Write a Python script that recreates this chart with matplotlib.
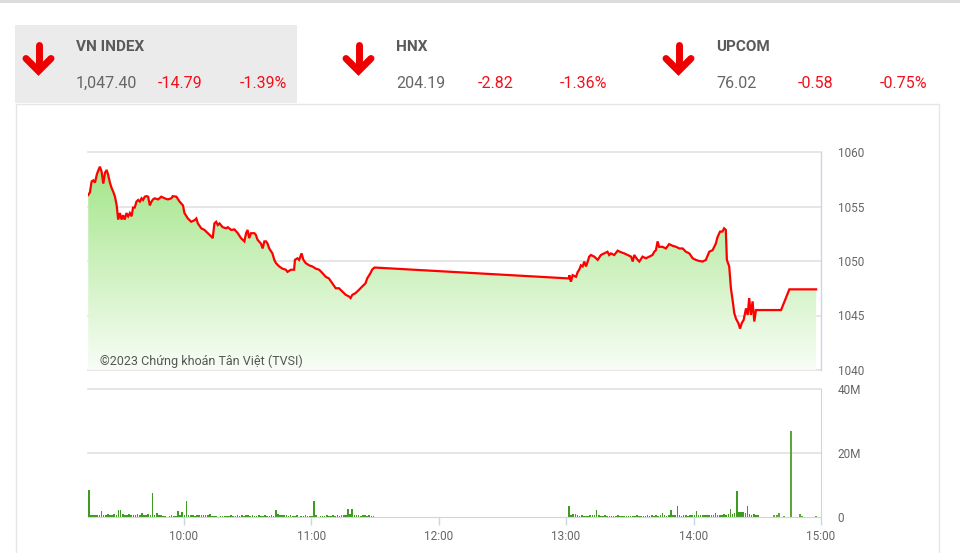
import matplotlib
matplotlib.use('Agg')
import matplotlib.pyplot as plt
import numpy as np
from matplotlib.patches import Rectangle
from matplotlib.lines import Line2D

plt.rcParams['font.family'] = ['Roboto', 'DejaVu Sans']

# ---------------- data ----------------
# header quotes
idx_names = ['VN INDEX', 'HNX', 'UPCOM']
idx_values = ['1,047.40', '204.19', '76.02']
idx_changes = ['-14.79', '-2.82', '-0.58']
idx_pcts = ['-1.39%', '-1.36%', '-0.75%']

# time in minutes since 09:00
morning_t = [15.1, 15.9, 16.7, 17.5, 18.3, 19.1, 19.8, 20.6, 21.4, 22.2, 23.0, 23.8, 24.5, 25.3,
             26.1, 26.9, 27.7, 28.5, 29.2, 30.0, 30.8, 31.5, 32.3, 33.1, 33.9, 34.7, 35.5, 36.2,
             37.0, 37.8, 38.6, 39.4, 40.2, 40.9, 41.7, 42.5, 43.3, 44.1, 44.9, 45.6, 46.4, 48.0,
             49.5, 51.1, 52.6, 54.2, 54.9, 56.6, 58.1, 59.7, 60.4, 62.0, 63.6, 65.2, 66.0, 66.7,
             68.3, 69.8, 71.4, 73.0, 73.7, 74.5, 75.3, 76.1, 76.9, 78.4, 80.0, 80.8, 82.4, 83.9,
             85.5, 87.0, 88.6, 89.4, 90.1, 90.9, 91.7, 93.3, 94.0, 94.8, 96.4, 97.2, 98.0, 98.8,
             99.5, 100.3, 101.8, 102.7, 103.5, 105.0, 106.5, 108.1, 108.9, 110.5, 112.0, 112.4,
             113.6, 114.4, 115.5, 116.4, 117.5, 119.1, 120.6, 122.2, 123.8, 125.3, 126.9, 128.4,
             130.0, 131.6, 133.1, 134.7, 136.3, 137.8, 138.6, 139.4, 140.9, 142.5, 144.0, 145.6,
             146.4, 148.0, 148.7, 149.5, 150.0]
morning_p = [1056.05, 1056.3, 1057.3, 1057.4, 1057.2, 1057.9, 1058.3, 1058.65, 1058.2, 1057.1,
             1058.1, 1058.35, 1057.9, 1057.2, 1056.7, 1056.35, 1055.9, 1055.1, 1053.8, 1054.4,
             1053.8, 1054.2, 1053.8, 1054.4, 1054.1, 1054.4, 1054.1, 1054.9, 1054.9, 1055.45,
             1055.6, 1055.45, 1055.75, 1055.6, 1055.9, 1055.95, 1055.9, 1055.1, 1055.45, 1055.65,
             1055.75, 1055.65, 1055.9, 1055.75, 1055.65, 1055.75, 1055.95, 1055.9, 1055.45, 1055.1,
             1054.4, 1053.9, 1053.6, 1053.75, 1053.9, 1053.45, 1053.0, 1052.85, 1052.55, 1052.25,
             1052.1, 1053.45, 1053.6, 1053.3, 1053.45, 1053.1, 1053.0, 1053.1, 1052.85, 1052.9,
             1052.55, 1052.1, 1051.8, 1052.55, 1052.85, 1052.1, 1052.55, 1052.55, 1052.4, 1051.95,
             1051.6, 1051.15, 1051.8, 1051.8, 1051.6, 1051.15, 1050.7, 1050.1, 1049.8, 1049.5,
             1049.3, 1049.2, 1049.0, 1049.2, 1049.2, 1050.1, 1050.25, 1050.1, 1050.7, 1050.1,
             1049.8, 1049.6, 1049.5, 1049.3, 1049.2, 1048.9, 1048.55, 1048.4, 1047.95, 1047.5,
             1047.5, 1047.2, 1046.9, 1046.75, 1046.6, 1046.9, 1047.05, 1047.35, 1047.65, 1047.95,
             1048.4, 1048.9, 1049.2, 1049.35, 1049.4]

afternoon_t = [241.4, 241.5, 242.3, 243.1, 244.7, 245.5, 246.2, 247.0, 247.8, 248.6, 249.4, 250.2,
               250.9, 251.7, 253.3, 254.9, 256.4, 257.9, 259.5, 260.3, 261.1, 262.7, 264.3, 265.9,
               267.4, 269.0, 270.6, 271.4, 272.1, 273.7, 274.5, 276.0, 277.6, 279.1, 280.7, 281.5,
               282.3, 283.1, 283.8, 285.4, 287.0, 288.5, 290.1, 291.8, 293.3, 294.9, 296.4, 298.0,
               299.6, 301.1, 302.7, 304.3, 305.8, 307.4, 309.0, 310.5, 311.3, 312.5, 313.6, 314.4,
               315.2, 315.7, 316.8, 317.6, 318.4, 319.2, 320.0, 321.1, 321.9, 322.7, 323.6, 324.7,
               325.5, 326.2, 327.0, 327.8, 328.6, 329.4, 330.1]
afternoon_p = [1048.4, 1048.7, 1048.1, 1048.7, 1048.55, 1049.0, 1049.2, 1049.6, 1049.5, 1049.95,
               1049.5, 1049.95, 1050.4, 1050.55, 1050.4, 1050.1, 1050.55, 1050.7, 1050.85, 1050.55,
               1050.7, 1050.55, 1050.95, 1050.8, 1050.7, 1050.55, 1050.4, 1049.95, 1050.55, 1050.1,
               1049.95, 1050.4, 1050.25, 1050.4, 1050.55, 1050.85, 1051.0, 1051.8, 1051.3, 1051.3,
               1051.15, 1051.55, 1051.4, 1051.3, 1051.15, 1051.15, 1050.85, 1050.7, 1050.25, 1050.1,
               1050.0, 1049.95, 1050.1, 1050.85, 1051.0, 1051.6, 1052.2, 1052.7, 1052.7, 1053.0,
               1052.85, 1050.1, 1049.5, 1047.5, 1046.4, 1045.2, 1044.7, 1044.3, 1043.8, 1044.3,
               1044.6, 1045.65, 1045.05, 1046.6, 1045.05, 1046.3, 1044.45, 1045.5, 1045.5]

close_t = [341.2, 345.1, 357.7]
close_p = [1045.5, 1047.4, 1047.4]

# volume (millions of shares), one bar per minute
morning_vol_start = 15
morning_vol = [8.3, 0.5, 0.6, 0.5, 0.7, 0.6, 1.9, 0.6, 0.5, 1.0,
               0.6, 0.5, 1.0, 0.7, 2.1, 2.3, 0.8, 0.6, 0.5, 1.0,
               0.6, 0.5, 0.7, 1.0, 0.6, 1.25, 0.6, 0.5, 0.9, 0.6,
               7.5, 0.6, 1.35, 0.5, 0.5, 0.4, 0.3, 0.0, 0.4, 0.5,
               0.3, 0.4, 1.9, 0.6, 1.6, 0.6, 5.0, 0.6, 0.5, 0.5,
               0.4, 0.5, 0.6, 0.7, 0.7, 0.5, 0.6, 1.0, 0.4, 0.3,
               0.4, 0.0, 0.4, 0.3, 0.4, 0.4, 0.3, 0.5, 0.4, 0.3,
               0.5, 0.4, 0.5, 0.4, 0.6, 0.5, 0.4, 0.5, 0.4, 0.4,
               0.5, 0.3, 0.4, 0.5, 0.3, 0.4, 0.5, 0.4, 2.3, 0.9,
               0.7, 0.6, 0.5, 0.6, 0.4, 0.5, 0.3, 0.4, 0.5, 0.0,
               0.4, 0.3, 0.5, 0.4, 0.3, 0.4, 4.9, 0.5, 0.0, 0.4,
               0.3, 0.4, 0.5, 0.4, 0.3, 0.5, 0.4, 0.5, 0.4, 0.5,
               0.6, 0.5, 2.6, 0.8, 2.6, 0.6, 0.5, 0.5, 0.4, 0.5,
               0.5, 0.4, 0.5, 0.4, 0.3]
afternoon_vol_start = 241
afternoon_vol = [3.3, 0.6, 1.0, 1.0, 0.5, 0.4, 0.5, 0.4, 0.3, 0.4,
                 0.5, 0.7, 0.5, 2.3, 0.5, 0.4, 0.3, 0.5, 0.4, 0.3,
                 0.4, 0.3, 0.4, 0.5, 0.3, 0.4, 0.3, 0.4, 0.3, 0.4,
                 0.3, 0.4, 0.5, 0.3, 0.4, 0.3, 0.4, 0.5, 0.4, 0.5,
                 0.4, 0.5, 0.4, 0.6, 1.35, 0.5, 0.4, 0.6, 2.3, 0.5,
                 0.6, 3.3, 0.5, 0.4, 0.5, 0.6, 0.4, 0.5, 0.6, 0.5,
                 1.9, 0.5, 0.6, 0.7, 0.6, 0.5, 0.7, 0.6, 0.7, 1.35,
                 0.6, 0.7, 0.7, 0.8, 0.7, 0.9, 2.6, 1.0, 1.2, 8.0,
                 1.6, 1.7, 1.6, 1.2, 3.3, 0.8, 0.7, 0.8, 0.7, 0.7]
late_vol_t = [337.9, 339.3, 340.4, 342.4, 345.9, 350.3, 351.1, 357.7]
late_vol = [0.5, 0.5, 1.35, 0.4, 27.0, 0.8, 0.3, 0.2]

price_ticks = [1040, 1045, 1050, 1055, 1060]
vol_ticks = [0, 20, 40]
vol_tick_labels = ['0', '20M', '40M']
time_ticks = [60, 120, 180, 240, 300, 360]
time_labels = ['10:00', '11:00', '12:00', '13:00', '14:00', '15:00']

# ---------------- figure ----------------
W, H = 960, 553
fig = plt.figure(figsize=(9.6, 5.53), dpi=100)
fig.patch.set_facecolor('white')

bg = fig.add_axes([0, 0, 1, 1], zorder=0)
bg.set_xlim(0, W)
bg.set_ylim(H, 0)
bg.axis('off')

bg.add_patch(Rectangle((0, 0), W, 2.5, color='#dcdcdc', lw=0))
bg.add_patch(Rectangle((15, 25), 282, 78, color='#ebebeb', lw=0))
bg.add_patch(Rectangle((15.5, 103.5), 923.5, 470, fill=False, ec='#e6e6e6', lw=1))

red = '#f2111a'
for i in range(3):
    ox = 320 * i
    cx = 38.5 + ox
    bg.add_line(Line2D([cx, cx], [45, 69], color='#ee0000', lw=5, solid_capstyle='round'))
    bg.add_line(Line2D([cx - 12.5, cx, cx + 12.5], [58.5, 71, 58.5], color='#ee0000', lw=5,
                       solid_capstyle='round', solid_joinstyle='miter'))
    bg.text(76 + ox, 47, idx_names[i], fontsize=11, fontweight='bold', color='#5a5a5a',
            va='center', ha='left')
    bg.text(76 + ox, 83.5, idx_values[i], fontsize=11.5, color='#666666', va='center', ha='left')
    bg.text(158 + ox, 83.5, idx_changes[i], fontsize=11.5, color=red, va='center', ha='left')
    bg.text(240 + ox, 83.5, idx_pcts[i], fontsize=11.5, color=red, va='center', ha='left')

grid_c = '#e2e2e2'
axis_c = '#ccd6e3'
lab_c = '#666666'

# ---------------- price panel ----------------
ax = fig.add_axes([88 / W, 1 - 370 / H, (821 - 88) / W, (370 - 152) / H], zorder=2)
ax.patch.set_alpha(0)
ax.set_xlim(15, 360)
ax.set_ylim(1040, 1060)
for s in ['top', 'left', 'bottom']:
    ax.spines[s].set_visible(False)
ax.spines['right'].set_color(axis_c)
ax.spines['right'].set_linewidth(1)
for v in price_ticks:
    ax.axhline(v, color=grid_c, lw=1.2, zorder=0.5, clip_on=False)
ax.yaxis.tick_right()
ax.set_yticks(price_ticks)
ax.tick_params(axis='y', length=0, pad=12, labelsize=8.5, labelcolor=lab_c)
ax.set_xticks([])

all_t = morning_t + afternoon_t + close_t
all_p = morning_p + afternoon_p + close_p
poly = ax.fill_between(all_t, all_p, 1040, color='none', lw=0)
top = np.array([158, 228, 130]) / 255
bot = np.array([248, 253, 245]) / 255
fr = np.linspace(0, 1, 256).reshape(-1, 1, 1)
img = top * (1 - fr) + bot * fr
im = ax.imshow(img, extent=[15, 360, 1040, 1060], aspect='auto', origin='upper', zorder=1)
im.set_clip_path(poly.get_paths()[0], transform=ax.transData)
ax.plot(all_t, all_p, color='#ff0000', lw=1.6, zorder=3, solid_joinstyle='miter')
ax.text(100 / W, 1 - 361 / H, '©2023 Chứng khoán Tân Việt (TVSI)', transform=fig.transFigure,
        fontsize=9, color='#555555', va='center', ha='left', zorder=5)

# ---------------- volume panel ----------------
vax = fig.add_axes([88 / W, 1 - 517 / H, (821 - 88) / W, 128 / H], zorder=2)
vax.patch.set_alpha(0)
vax.set_xlim(15, 360)
vax.set_ylim(0, 40)
for s in ['top', 'left']:
    vax.spines[s].set_visible(False)
vax.spines['right'].set_color(axis_c)
vax.spines['bottom'].set_color(axis_c)
for v in [20, 40]:
    vax.axhline(v, color=grid_c, lw=1.2, zorder=0.5, clip_on=False)
mt = [morning_vol_start + i for i in range(len(morning_vol))]
at = [afternoon_vol_start + i for i in range(len(afternoon_vol))]
bar_c = '#3f9a22'
vax.bar(mt, morning_vol, width=0.75, color=bar_c, align='edge', lw=0, zorder=2)
vax.bar(at, afternoon_vol, width=0.75, color=bar_c, align='edge', lw=0, zorder=2)
vax.bar(late_vol_t, late_vol, width=0.9, color='#5aa83a', align='center', lw=0, zorder=2)
vax.yaxis.tick_right()
vax.set_yticks(vol_ticks)
vax.set_yticklabels(vol_tick_labels)
vax.tick_params(axis='y', length=0, pad=12, labelsize=8.5, labelcolor=lab_c)
vax.set_xticks(time_ticks)
vax.set_xticklabels(time_labels)
vax.tick_params(axis='x', length=6, width=1, color=axis_c, pad=3, labelsize=8.5, labelcolor=lab_c)

fig.savefig('out.png', dpi=100, facecolor='white')
